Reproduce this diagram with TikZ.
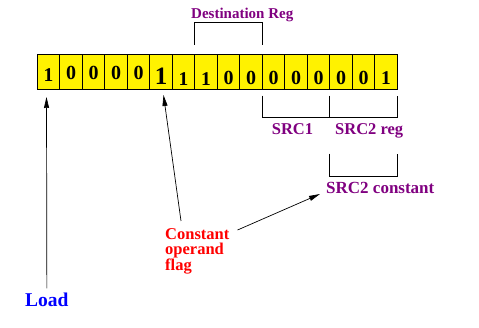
\documentclass[tikz,border=0pt]{standalone}
\usepackage{fontspec}
\setmainfont{Liberation Serif}
\usetikzlibrary{arrows.meta}
\definecolor{regpurple}{HTML}{800080}
\tikzset{
  cell/.style={draw, line width=0.8pt, fill=yellow, minimum width=22.5pt, minimum height=35.3pt, inner sep=0pt},
  bit/.style={anchor=base, inner sep=0pt, font=\bfseries\fontsize{#1}{#1}\selectfont},
  reglabel/.style={anchor=base west, inner sep=0pt, text=regpurple, font=\bfseries\fontsize{16.5}{18}\selectfont},
  pointer/.style={-{Triangle[length=11pt,width=5pt]}, line width=0.7pt},
}
\begin{document}
\begin{tikzpicture}[x=1pt, y=-1pt]
\useasboundingbox (0,0) rectangle (479,328);
% instruction word
\foreach \d/\b/\s [count=\i from 0] in {1/81.7/19.5, 0/80/20, 0/80/20, 0/80/20, 0/80/20,
    1/85/25, 1/85.7/19.5, 1/85.7/19.5, 0/85/20, 0/85/20, 0/85/20, 0/85/20, 0/85/20, 0/85/20, 0/85/20, 1/85/19.5} {
  \node[cell] (c\i) at ({48.55+22.5*\i}, 71.65) {};
  \node[bit=\s] (b\i) at ({48.55+22.5*\i}, \b) {\d};
}

% field brackets
\draw[line width=0.8pt] ([yshift=9pt]c7.north west) -- ++(0,-22) -| ([yshift=9pt]c10.north west);
\draw[line width=0.8pt] ([yshift=-6pt]c10.south west) -- ++(0,22) -| ([yshift=-6pt]c15.south east);
\draw[line width=0.8pt] ([yshift=-6pt]c13.south west) -- ++(0,22);
\draw[line width=0.8pt] ([yshift=-64pt]c13.south west) -- ++(0,22.7) -| ([yshift=-64pt]c15.south east);

% labels
\node[reglabel, font=\bfseries\fontsize{15}{17}\selectfont] (dest) at (191,18.3) {Destination Reg};
\node[reglabel] (srcone) at (271.7,135) {SRC1};
\node[reglabel] (srctworeg) at (335,135) {SRC2 reg};
\node[reglabel, font=\bfseries\fontsize{17}{19}\selectfont] (srctwoconst) at (326,194) {SRC2 constant};
\node[anchor=north west, inner sep=0pt, align=left, text=red, font=\bfseries\fontsize{16.5}{15}\selectfont] (flag) at (165,228) {Constant\\operand\\flag};
\node[anchor=base west, inner sep=0pt, text=blue, font=\bfseries\fontsize{19.5}{21}\selectfont] (load) at (25,307) {Load};

% pointers
\coordinate (loadtip) at (46.5,97);
\coordinate (flagtip) at (163.5,95);
\draw[pointer] ([yshift=5pt]load.north) -- (loadtip);
\draw[pointer] ([xshift=16pt,yshift=7pt]flag.north west) -- (flagtip);
\draw[pointer] ([xshift=8pt,yshift=-2pt]flag.north east) -- ([xshift=-6pt]srctwoconst.base west);
\end{tikzpicture}
\end{document}
